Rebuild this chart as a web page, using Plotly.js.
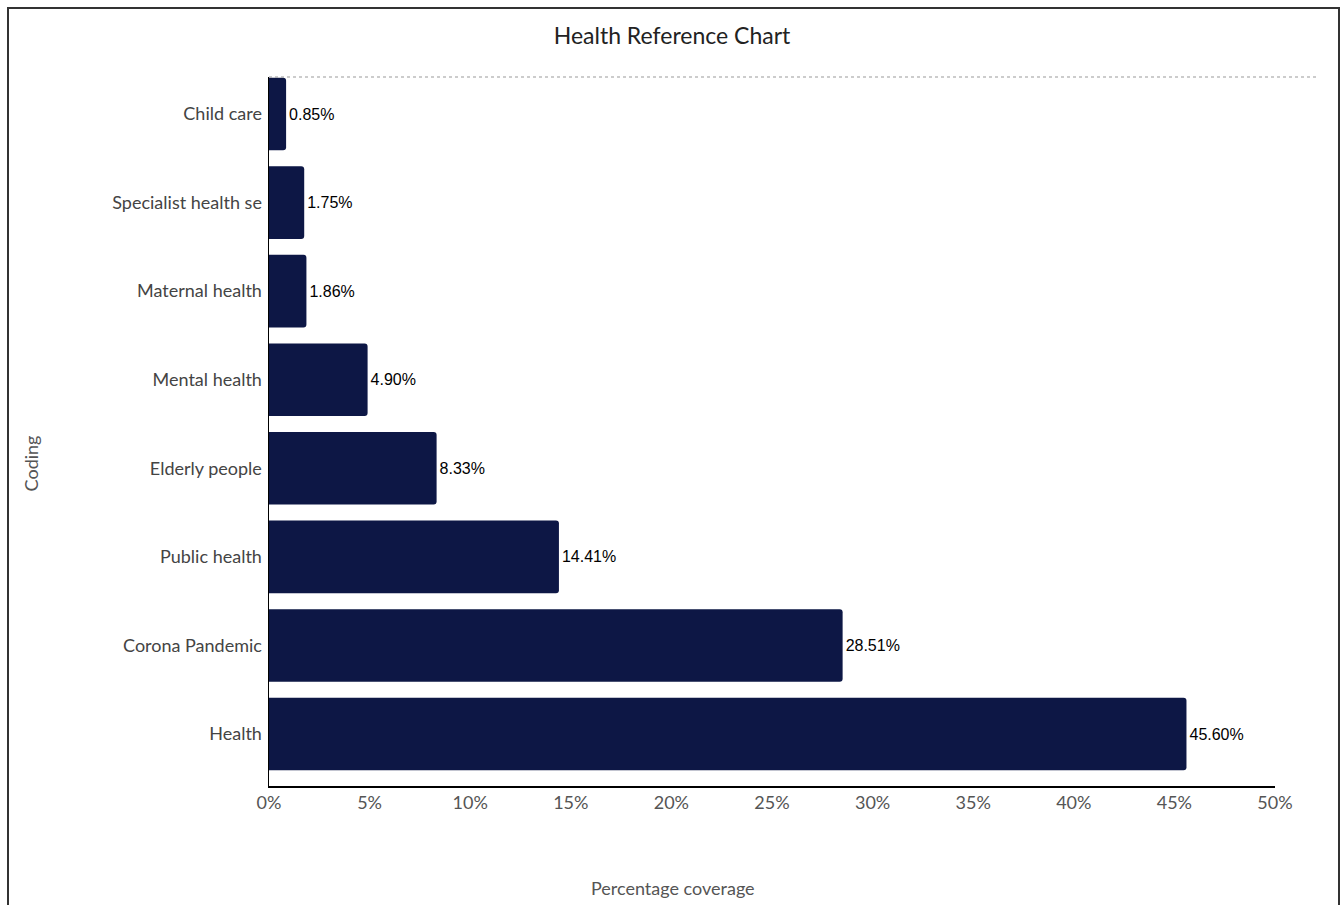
<!DOCTYPE html>
<html>
<head>
<meta charset="utf-8">
<script src="https://cdn.plot.ly/plotly-3.0.1.min.js"></script>
<style>
  html, body { margin: 0; padding: 0; background: #fff; overflow: hidden; }
  #chart { position: absolute; left: 0; top: 0; width: 1344px; height: 905px; }
  #frame { position: absolute; left: 7px; top: 7px; width: 1329px; height: 910px;
           border: 2px solid #333; border-bottom: none; pointer-events: none; }
</style>
</head>
<body>
<div id="chart"></div>
<div id="frame"></div>
<script>
// Coding categories, listed top to bottom
const categories = [
  'Child care',
  'Specialist health se',
  'Maternal health',
  'Mental health',
  'Elderly people',
  'Public health',
  'Corona Pandemic',
  'Health'
];
// Percentage coverage per category
const coverage = [0.85, 1.75, 1.86, 4.90, 8.33, 14.41, 28.51, 45.60];
const xTicks = [0, 5, 10, 15, 20, 25, 30, 35, 40, 45, 50];

const labelFont = 'Lato, "Open Sans", sans-serif';

const trace = {
  type: 'bar',
  orientation: 'h',
  y: categories,
  x: coverage,
  marker: { color: '#0d1745', cornerradius: 3 },
  width: 0.82,
  texttemplate: '%{x:.2f}%',
  textposition: 'outside',
  cliponaxis: false,
  textfont: { family: 'Arial, "Liberation Sans", sans-serif', size: 16, color: '#000' },
  hoverinfo: 'skip'
};

const layout = {
  width: 1344,
  height: 905,
  margin: { l: 269, r: 69, t: 77, b: 119 },
  paper_bgcolor: '#fff',
  plot_bgcolor: '#fff',
  showlegend: false,
  title: {
    text: 'Health Reference Chart',
    font: { family: labelFont, size: 23, color: '#222' },
    x: 0.5, xref: 'container', xanchor: 'center',
    y: 0.96, yref: 'container', yanchor: 'middle'
  },
  xaxis: {
    range: [0, 50],
    tickvals: xTicks,
    ticktext: xTicks.map(v => v + '%'),
    showgrid: false,
    zeroline: false,
    showline: true,
    linecolor: '#000',
    linewidth: 1.5,
    ticks: '',
    tickfont: { family: labelFont, size: 18, color: '#555' },
    fixedrange: true
  },
  yaxis: {
    range: [7.587, -0.418],
    showgrid: false,
    zeroline: false,
    showline: true,
    linecolor: '#000',
    linewidth: 1.5,
    ticks: '',
    ticklabelstandoff: 2,
    tickfont: { family: labelFont, size: 18, color: '#444' },
    fixedrange: true
  },
  shapes: [{
    type: 'line', xref: 'paper', yref: 'paper',
    x0: 0, x1: 1.0408, y0: 1, y1: 1,
    line: { color: '#999', width: 1, dash: 'dot' }
  }],
  annotations: [
    {
      text: 'Percentage coverage', xref: 'paper', yref: 'paper',
      x: 0.4016, xanchor: 'center', y: -0.1443, yanchor: 'middle',
      showarrow: false, font: { family: labelFont, size: 18, color: '#555' }
    },
    {
      text: 'Coding', xref: 'paper', yref: 'paper',
      x: -0.2366, xanchor: 'center', y: 0.455, yanchor: 'middle', textangle: -90,
      showarrow: false, font: { family: labelFont, size: 18, color: '#555' }
    }
  ]
};

Plotly.newPlot('chart', [trace], layout, { displayModeBar: false, staticPlot: true });
</script>
</body>
</html>
